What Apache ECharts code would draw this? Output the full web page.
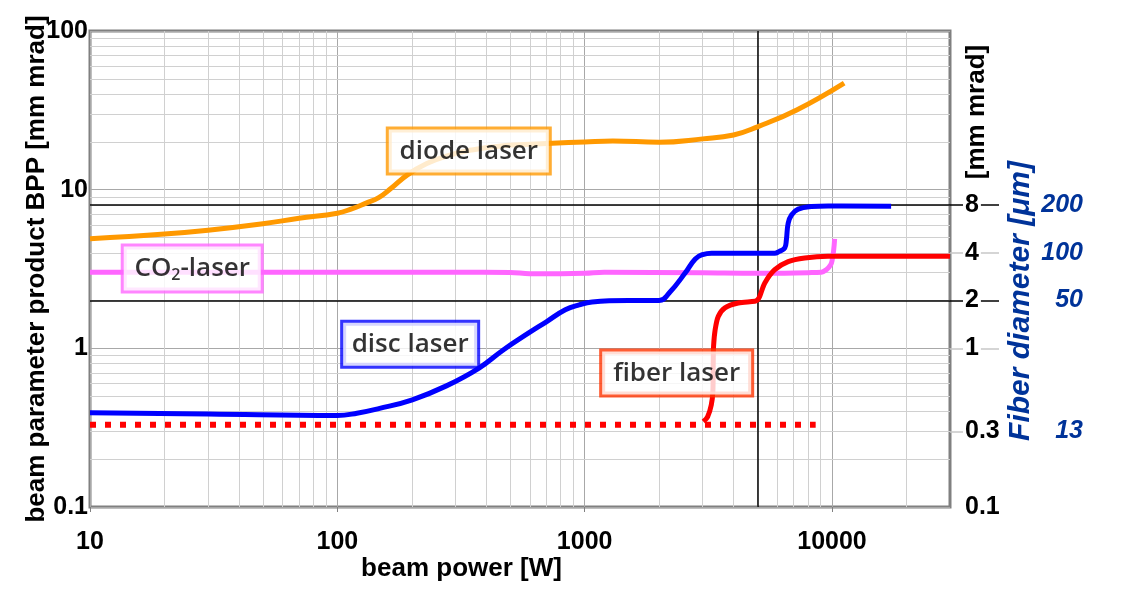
<!DOCTYPE html>
<html><head><meta charset="utf-8">
<script src="https://cdn.jsdelivr.net/npm/echarts@6/dist/echarts.min.js"></script>
<style>html,body{margin:0;padding:0;background:#fff}#c{width:1123px;height:605px}</style>
</head><body><div id="c"></div>
<script>
// ---- data (beam power in W, BPP in mm mrad) ----
const diodeW   = [10, 20, 30, 50, 70, 100, 115, 130, 147, 165, 192, 230, 280, 350, 450, 600, 740, 1000, 1300, 2000, 3000, 4000, 5000, 7200, 11200];
const diodeBPP = [4.9, 5.25, 5.55, 6.1, 6.6, 7.1, 7.6, 8.2, 8.9, 10.2, 12.4, 14.6, 16.4, 17.8, 18.8, 19.3, 19.6, 20.0, 20.3, 19.9, 20.9, 22.1, 24.9, 31.8, 47];

const co2W   = [10, 100, 300, 500, 600, 800, 1000, 1200, 3000, 5000, 8000, 9060, 9490, 9880, 10020, 10160, 10250];
const co2BPP = [3.02, 3.02, 3.02, 3.01, 2.95, 2.95, 2.97, 3.02, 2.99, 2.97, 3.0, 3.02, 3.13, 3.36, 3.61, 4.18, 4.9];

const discW   = [10, 30, 100, 120, 147, 201, 276, 374, 470, 594, 700, 835, 950, 1072, 1500, 2000, 2200, 2547, 2800, 3000, 3260, 4000, 5000, 5870, 6100, 6440, 6540, 6650, 6860, 7300, 8260, 9640, 17340];
const discBPP = [0.392, 0.385, 0.377, 0.39, 0.417, 0.474, 0.58, 0.751, 0.98, 1.25, 1.47, 1.75, 1.88, 1.96, 2.0, 2.0, 2.24, 2.98, 3.66, 3.9, 3.98, 3.98, 3.98, 3.98, 4.07, 4.29, 4.83, 6.15, 6.93, 7.54, 7.83, 7.9, 7.85];

const fiberW   = [3020, 3140, 3250, 3300, 3310, 3320, 3370, 3470, 3690, 4180, 4880, 5000, 5100, 5350, 5870, 6650, 7760, 9640, 30000];
const fiberBPP = [0.345, 0.37, 0.44, 0.54, 0.8, 1.03, 1.31, 1.59, 1.80, 1.93, 1.98, 2.02, 2.12, 2.58, 3.13, 3.52, 3.71, 3.8, 3.8];

const fiberDotW   = [10, 8590];
const fiberDotBPP = [0.33, 0.33];

// ---- axis ticks / labels ----
const xTickValues = [10, 100, 1000, 10000];
const yTickValues = [0.1, 1, 10, 100];
const rightTickValues = [8, 4, 2, 1, 0.3, 0.1];
const rightGrayTicks = [4, 1, 0.3];
const rightBlackTicks = [8, 2];
const fiberDiamAt = [8, 4, 2, 0.3];
const fiberDiamLabels = ['200', '100', '50', '13'];
const minorX = [20,30,40,50,60,70,80,90,200,300,400,500,600,700,800,900,2000,3000,4000,5000,6000,7000,8000,9000,20000];
const minorY = [0.2,0.3,0.4,0.5,0.6,0.7,0.8,0.9,2,3,4,5,6,7,8,9,20,30,40,50,60,70,80,90];
const refLinesW = [5000];
const refLinesBPP = [8, 2];

// ---- annotation boxes ----
const boxTexts  = ['diode laser', '{a|CO}{s|2}{a|-laser}', 'disc laser', 'fiber laser'];
const boxW      = [340, 25.9, 197, 2355];
const boxBPP    = [17.5, 3.18, 1.06, 0.698];
const boxColors = ['#ff9900', '#ff66ff', '#0000ff', '#ff3300'];
const boxSizes  = [[160, 43], [137, 44], [134, 43], [149, 43]];

const zip = (a, b) => a.map((v, i) => [v, b[i]]);
const AX = 'Liberation Sans, Arial, sans-serif';
const LF = 'Open Sans, sans-serif';

const chart = echarts.init(document.getElementById('c'), null, {renderer: 'canvas'});
const logAxisY = (extra) => Object.assign({type: 'log', logBase: 10, min: 0.1, max: 100}, extra);

chart.setOption({
  animation: false,
  backgroundColor: '#fff',
  grid: {left: 90, right: 173, top: 31, bottom: 98, show: true, borderColor: '#808080', borderWidth: 3, backgroundColor: 'transparent'},
  xAxis: {
    type: 'log', logBase: 10, min: 10, max: 30000,
    name: 'beam power [W]', nameLocation: 'middle', nameGap: 49, nameMoveOverlap: false,
    nameTextStyle: {fontFamily: AX, fontWeight: 'bold', fontSize: 26, color: '#000', padding: [0, 117, 0, 0]},
    axisLine: {show: false},
    axisTick: {show: true, customValues: xTickValues, length: 5, lineStyle: {color: '#808080', width: 1}},
    axisLabel: {customValues: xTickValues, formatter: v => String(Math.round(v)), fontFamily: AX, fontWeight: 'bold', fontSize: 25, color: '#000', margin: 23},
    splitLine: {show: true, lineStyle: {color: '#a8a8a8', width: 1}}
  },
  yAxis: [
    logAxisY({
      position: 'left',
      name: 'beam parameter product BPP [mm mrad]', nameLocation: 'middle', nameGap: 40, nameRotate: 90, nameMoveOverlap: false,
      nameTextStyle: {fontFamily: AX, fontWeight: 'bold', fontSize: 26, color: '#000'},
      axisLine: {show: false}, axisTick: {show: false},
      axisLabel: {customValues: yTickValues, formatter: v => String(v), fontFamily: AX, fontWeight: 'bold', fontSize: 25, color: '#000', margin: 2},
      splitLine: {show: true, lineStyle: {color: '#a8a8a8', width: 1}}
    }),
    logAxisY({
      position: 'right', z: 4,
      axisLine: {show: false}, splitLine: {show: false},
      axisTick: {show: true, customValues: rightGrayTicks, length: 49, lineStyle: {color: '#c8c8c8', width: 1.5}},
      axisLabel: {customValues: rightTickValues, formatter: v => String(v), fontFamily: AX, fontWeight: 'bold', fontSize: 25, color: '#000', margin: 13, align: 'left', backgroundColor: '#fff', padding: [0, 2]}
    }),
    logAxisY({
      position: 'right', z: 3,
      axisLine: {show: false}, splitLine: {show: false},
      axisTick: {show: true, customValues: rightBlackTicks, length: 49, lineStyle: {color: '#000', width: 1.5}},
      axisLabel: {show: false}
    }),
    logAxisY({
      position: 'right', z: 4,
      axisLine: {show: false}, splitLine: {show: false}, axisTick: {show: false},
      axisLabel: {
        customValues: fiberDiamAt,
        formatter: v => {
          let best = 0, bd = Infinity;
          fiberDiamAt.forEach((t, i) => { const d = Math.abs(Math.log(v / t)); if (d < bd) { bd = d; best = i; } });
          return fiberDiamLabels[best];
        },
        fontFamily: AX, fontWeight: 'bold', fontStyle: 'italic', fontSize: 25, color: '#003399', margin: 133, align: 'right'
      }
    })
  ],
  graphic: [
    {type: 'text', x: 977, y: 112, rotation: Math.PI / 2, z: 10,
     style: {text: '[mm mrad]', font: 'bold 26px Liberation Sans, Arial, sans-serif', fill: '#000', align: 'center', verticalAlign: 'middle'}},
    {type: 'text', x: 1021, y: 301, rotation: Math.PI / 2, z: 10,
     style: {text: 'Fiber diameter [\u03bcm]', font: 'italic bold 30px Liberation Sans, Arial, sans-serif', fill: '#003399', align: 'center', verticalAlign: 'middle'}}
  ],
  series: [
    { // minor grid
      type: 'line', z: 1, silent: true, data: [[10, 0.1]], showSymbol: false, lineStyle: {opacity: 0},
      markLine: {z: 1, silent: true, symbol: ['none', 'none'], label: {show: false}, animation: false,
        lineStyle: {color: '#d0d0d0', width: 1, type: 'solid'},
        data: minorX.map(v => ({xAxis: v})).concat(minorY.map(v => ({yAxis: v})))}
    },
    { // reference black lines
      type: 'line', z: 2, silent: true, data: [[10, 0.1]], showSymbol: false, lineStyle: {opacity: 0},
      markLine: {z: 2, silent: true, symbol: ['none', 'none'], label: {show: false}, animation: false,
        lineStyle: {color: '#000', width: 1.5, type: 'solid'},
        data: refLinesW.map(v => ({xAxis: v})).concat(refLinesBPP.map(v => ({yAxis: v})))}
    },
    {name: 'diode laser', type: 'line', z: 3, data: zip(diodeW, diodeBPP), showSymbol: false, smooth: 0.45,
     lineStyle: {color: '#ff9900', width: 5, join: 'round'}},
    {name: 'CO2-laser', type: 'line', z: 3, data: zip(co2W, co2BPP), showSymbol: false, smooth: 0.4,
     lineStyle: {color: '#ff66ff', width: 5, join: 'round'}},
    {name: 'fiber laser (dotted)', type: 'line', z: 3, data: zip(fiberDotW, fiberDotBPP), showSymbol: false,
     lineStyle: {color: '#ff0000', width: 6, type: [6, 9], cap: 'butt'}},
    {name: 'disc laser', type: 'line', z: 3, data: zip(discW, discBPP), showSymbol: false, smooth: 0.45,
     lineStyle: {color: '#0000ff', width: 5, join: 'round'}},
    {name: 'fiber laser', type: 'line', z: 3, data: zip(fiberW, fiberBPP), showSymbol: false, smooth: 0.3,
     lineStyle: {color: '#ff0000', width: 5, join: 'round'}},
    {
      type: 'scatter', z: 10, silent: true, symbolSize: 0,
      data: boxTexts.map((t, i) => ({
        value: [boxW[i], boxBPP[i]],
        label: {formatter: t, borderColor: boxColors[i], width: boxSizes[i][0], height: boxSizes[i][1], lineHeight: boxSizes[i][1]}
      })),
      label: {show: true, position: 'inside', color: '#000', fontFamily: LF, fontSize: 26, fontWeight: 600,
        align: 'center', verticalAlign: 'middle', backgroundColor: '#fff', borderWidth: 3, padding: 0,
        rich: {a: {fontFamily: LF, fontSize: 26, fontWeight: 600, color: '#000', lineHeight: 43, verticalAlign: 'middle'},
               s: {fontFamily: LF, fontSize: 16, fontWeight: 600, color: '#000', lineHeight: 20, padding: [14, 0, 0, 0]}}}
    }
  ]
});
</script></body></html>
